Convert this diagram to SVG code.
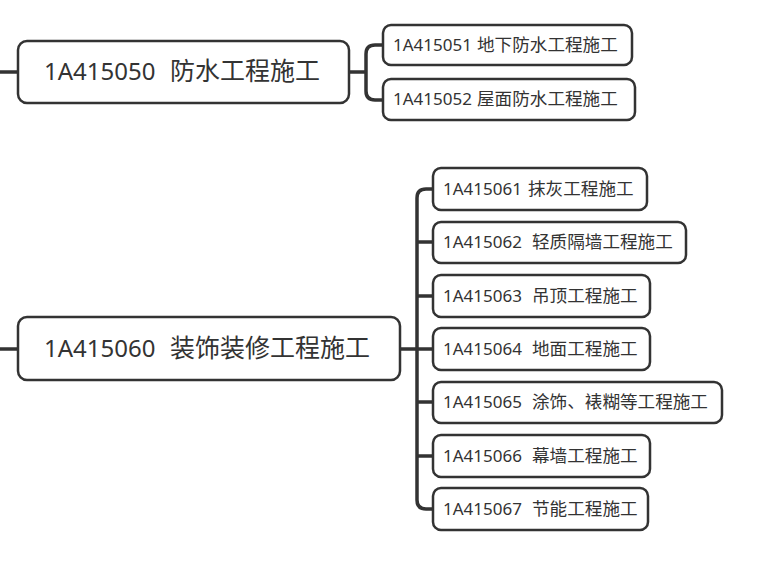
<svg xmlns="http://www.w3.org/2000/svg" width="760" height="571" viewBox="0 0 760 571">
<style>
.box{fill:#fff;stroke:#333;stroke-width:2.5}
.c{fill:none;stroke:#333;stroke-width:3.5;stroke-linecap:round;stroke-linejoin:round}
.t{font-family:"Noto Sans","Noto Sans CJK SC",sans-serif;fill:#333}
.m{font-size:24px}
.m tspan{font-size:25px}
.s{font-size:17px}
.s tspan{font-size:17.6px}
</style>
<rect width="760" height="571" fill="#fff"/>
<g id="connectors">
<path class="c" d="M-2,72 H18 M-2,349 H18"/>
<path class="c" d="M349,72 H366 M383,45 H375 Q366,45 366,54 V91 Q366,100 375,100 H383"/>
<path class="c" d="M400,349 H433 M433,189 H426 Q417,189 417,198 V500 Q417,509 426,509 H433 M417,242 H433 M417,296 H433 M417,402 H433 M417,456 H433"/>
</g>
<g id="n1"><rect class="box" x="18" y="41" width="331" height="62" rx="9"/><text class="t m" x="44" y="80">1A415050<tspan x="170">防水工程施工</tspan></text></g>
<g id="n11"><rect class="box" x="383" y="25" width="249" height="40" rx="8"/><text class="t s" x="393" y="51">1A415051<tspan x="477">地下防水工程施工</tspan></text></g>
<g id="n12"><rect class="box" x="383" y="79" width="252" height="41" rx="8"/><text class="t s" x="393" y="105">1A415052<tspan x="477">屋面防水工程施工</tspan></text></g>
<g id="n2"><rect class="box" x="18" y="317" width="382" height="63" rx="9"/><text class="t m" x="44" y="357">1A415060<tspan x="170">装饰装修工程施工</tspan></text></g>
<g id="n21"><rect class="box" x="433" y="168" width="214" height="42" rx="8"/><text class="t s" x="443" y="195">1A415061<tspan x="528">抹灰工程施工</tspan></text></g>
<g id="n22"><rect class="box" x="433" y="222" width="253" height="41" rx="8"/><text class="t s" x="443" y="248">1A415062<tspan x="532">轻质隔墙工程施工</tspan></text></g>
<g id="n23"><rect class="box" x="433" y="275" width="217" height="42" rx="8"/><text class="t s" x="443" y="302">1A415063<tspan x="532">吊顶工程施工</tspan></text></g>
<g id="n24"><rect class="box" x="433" y="328" width="217" height="42" rx="8"/><text class="t s" x="443" y="355">1A415064<tspan x="532">地面工程施工</tspan></text></g>
<g id="n25"><rect class="box" x="433" y="382" width="289" height="41" rx="8"/><text class="t s" x="443" y="408">1A415065<tspan x="532">涂饰、裱糊等工程施工</tspan></text></g>
<g id="n26"><rect class="box" x="433" y="435" width="217" height="42" rx="8"/><text class="t s" x="443" y="462">1A415066<tspan x="532">幕墙工程施工</tspan></text></g>
<g id="n27"><rect class="box" x="433" y="488" width="215" height="42" rx="8"/><text class="t s" x="443" y="515">1A415067<tspan x="532">节能工程施工</tspan></text></g>
</svg>
